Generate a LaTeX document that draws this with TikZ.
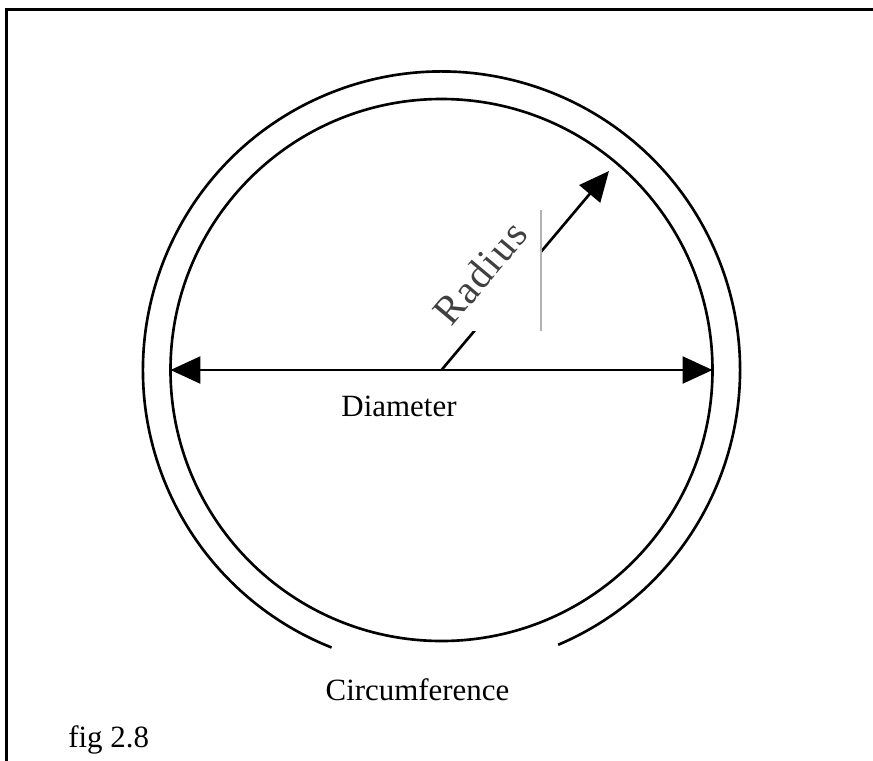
\documentclass[tikz,border=0pt]{standalone}
\usepackage{fontspec}
\setmainfont{Liberation Serif}
\newfontfamily\radiusfont[LetterSpace=4]{Liberation Serif}
\usetikzlibrary{arrows.meta}

\begin{document}
\begin{tikzpicture}[
        line width=1.5pt,
        label text/.style={font=\fontsize{17.6}{20}\selectfont, inner sep=0pt},
        measure/.style={-{Triangle[length=0.6cm, width=0.54cm]}},
        both measure/.style={{Triangle[length=0.6cm, width=0.54cm]}-{Triangle[length=0.6cm, width=0.54cm]}}
    ]

        \useasboundingbox (-8.83,-7.8) rectangle (8.63,7.4);
        \clip (-8.83,-7.8) rectangle (8.63,7.4);
        \draw[line width=1.6pt] (-8.70,-9) rectangle (10,7.21);

        \coordinate (O) at (0,0);
        \coordinate (Dl) at (180:5.42);
        \coordinate (Dr) at (0:5.42);
        \coordinate (Rt) at (3.35,3.98);

        \draw (O) circle (5.42);
        \draw (-67:5.97) arc[start angle=-67, end angle=248.4, radius=5.97];

        \draw[both measure] (Dl) -- (Dr);
        \draw[measure] (O) -- (Rt);

        % pasted label box over the radius
        \fill[white] (-0.43,0.78) rectangle (1.99,3.2);
        \draw[gray!60, line width=0.6pt] (1.99,0.78) -- (1.99,3.2);
        \node[label text, rotate=50, text=black!75] (R) at (0.77,1.94) {\radiusfont\fontsize{23}{26}\selectfont Radius};

        \node[label text, anchor=base] (D) at (-0.85,-0.92) {Diameter};
        \node[label text, anchor=base] (C) at (-0.48,-6.6) {Circumference};
        \node[label text, anchor=base west] (F) at (-7.49,-7.54) {fig 2.8};
    \end{tikzpicture}
\end{document}
